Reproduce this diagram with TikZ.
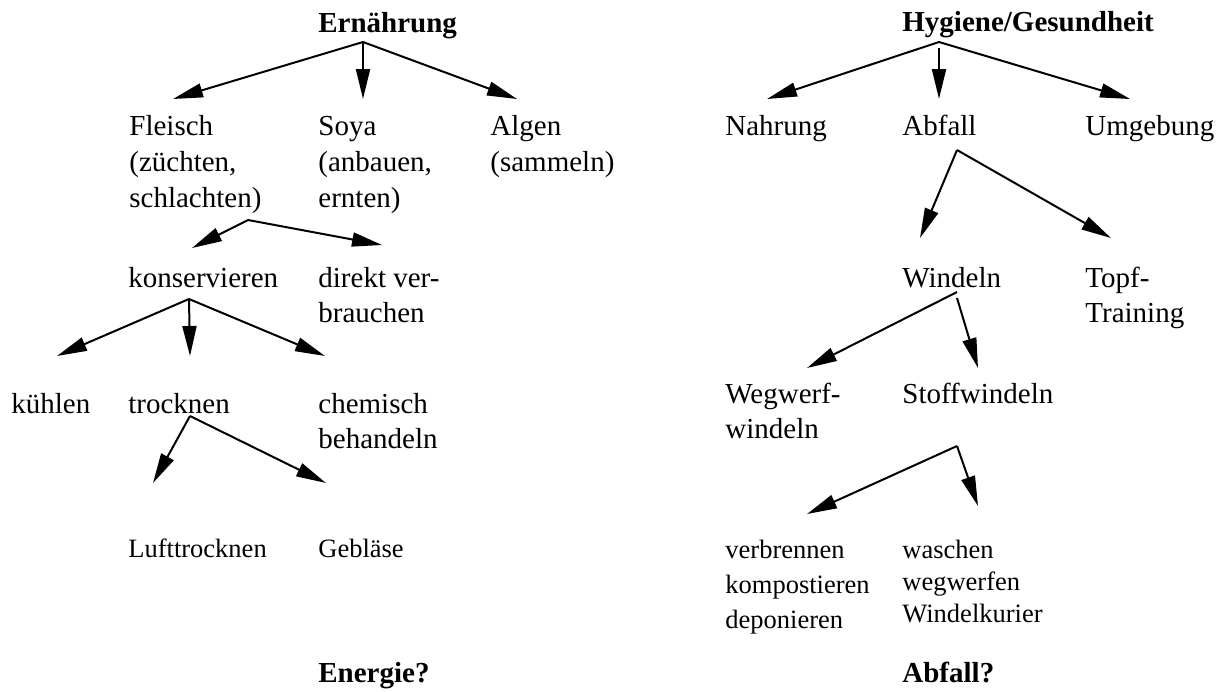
\documentclass[tikz,border=0pt]{standalone}
\usepackage{fontspec}
\setmainfont{Liberation Serif}
\usetikzlibrary{arrows.meta,calc}
\newcommand{\lines}[1]{\begin{tabular}[t]{@{}l@{}}#1\end{tabular}}

\begin{document}
\begin{tikzpicture}[x=0.5pt,y=-0.5pt,
    lbl/.style={anchor=base west,inner sep=0pt,
      font=\fontsize{14.5}{18}\selectfont},
    sm/.style={lbl,font=\fontsize{13.25}{17.5}\selectfont},
    hd/.style={lbl,font=\fontsize{14.5}{17.5}\selectfont\bfseries},
    arr/.style={-{Triangle[length=15pt,width=7pt]},line width=1pt}]
  \useasboundingbox (0,0) rectangle (1224,691);

  % Ernaehrung
  \node[hd] (ern) at (318,32) {Ernährung};
  \node[lbl] (fleisch) at (129,135) {\lines{Fleisch\\(züchten,\\schlachten)}};
  \node[lbl] (soya) at (318,135) {\lines{Soya\\(anbauen,\\ernten)}};
  \node[lbl] (algen) at (490,135) {\lines{Algen\\(sammeln)}};
  \node[lbl] (konserv) at (128,287) {konservieren};
  \node[lbl,font=\fontsize{14.5}{17.5}\selectfont] (direkt) at (318,287)
      {\lines{direkt ver-\\brauchen}};
  \node[lbl] (kuehlen) at (11,413) {kühlen};
  \node[lbl] (trocknen) at (128,413) {trocknen};
  \node[lbl,font=\fontsize{14.5}{17.5}\selectfont] (chemisch) at (318,413)
      {\lines{chemisch\\behandeln}};
  \node[sm] (luft) at (128,557) {Lufttrocknen};
  \node[sm] (geblaese) at (318,557) {Gebläse};
  \node[hd] (energie) at (318,682) {Energie?};

  \coordinate (ern-hub) at ($(ern.base west)+(45,10)$);
  \draw[arr] (ern-hub) -- ($(fleisch.base west)+(44,-36)$);
  \draw[arr] (ern-hub) -- ($(soya.base west)+(45,-36)$);
  \draw[arr] (ern-hub) -- ($(algen.base west)+(27,-36)$);

  \coordinate (fleisch-hub) at ($(fleisch.base west)+(119,85)$);
  \draw[arr] (fleisch-hub) -- ($(konserv.base west)+(64,-39)$);
  \draw[arr] (fleisch-hub) -- ($(direkt.base west)+(64,-42)$);

  \coordinate (konserv-hub) at ($(konserv.base west)+(61,12)$);
  \draw[arr] (konserv-hub) -- ($(kuehlen.base west)+(46,-57)$);
  \draw[arr] (konserv-hub) -- ($(trocknen.base west)+(62,-57)$);
  \draw[arr] (konserv-hub) -- ($(chemisch.base west)+(7,-57)$);

  \coordinate (trocknen-hub) at ($(trocknen.base west)+(62,3)$);
  \draw[arr] (trocknen-hub) -- ($(luft.base west)+(25,-74)$);
  \draw[arr] (trocknen-hub) -- ($(geblaese.base west)+(8,-74)$);

  % Hygiene
  \node[hd] (hyg) at (902,31) {Hygiene/Gesundheit};
  \node[lbl] (nahrung) at (725,135) {Nahrung};
  \node[lbl] (abfall) at (902,135) {Abfall};
  \node[lbl] (umgebung) at (1085,135) {Umgebung};
  \node[lbl] (windeln) at (902,287) {Windeln};
  \node[lbl,font=\fontsize{14.5}{17.5}\selectfont] (topf) at (1085,287)
      {\lines{Topf-\\Training}};
  \node[lbl,font=\fontsize{14.5}{17.5}\selectfont] (wegwerf) at (725,403)
      {\lines{Wegwerf-\\windeln}};
  \node[lbl] (stoff) at (902,403) {Stoffwindeln};
  \node[sm] (verbr) at (725,558) {\lines{verbrennen\\kompostieren\\deponieren}};
  \node[sm,font=\fontsize{13.25}{16}\selectfont] (wasch) at (902,558)
      {\lines{waschen\\wegwerfen\\Windelkurier}};
  \node[hd] (abfallq) at (902,682) {Abfall?};

  \coordinate (hyg-hub) at ($(hyg.base west)+(37,11)$);
  \draw[arr] (hyg-hub) -- ($(nahrung.base west)+(42,-36)$);
  \draw[arr] ($(hyg-hub)+(0,6)$) -- ($(abfall.base west)+(37,-36)$);
  \draw[arr] (hyg-hub) -- ($(umgebung.base west)+(45,-36)$);

  \coordinate (abfall-hub) at ($(abfall.base west)+(55,15)$);
  \draw[arr] (abfall-hub) -- ($(windeln.base west)+(18,-49)$);
  \draw[arr] (abfall-hub) -- ($(topf.base west)+(26,-49)$);

  \coordinate (windeln-hub) at ($(windeln.base west)+(55,5)$);
  \draw[arr] (windeln-hub) -- ($(wegwerf.base west)+(82,-35)$);
  \draw[arr] ($(windeln-hub)+(0,6)$) -- ($(stoff.base west)+(76,-35)$);

  \coordinate (stoff-hub) at ($(stoff.base west)+(55,43)$);
  \draw[arr] (stoff-hub) -- ($(verbr.base west)+(82,-44)$);
  \draw[arr] (stoff-hub) -- ($(wasch.base west)+(76,-52)$);
\end{tikzpicture}
\end{document}
